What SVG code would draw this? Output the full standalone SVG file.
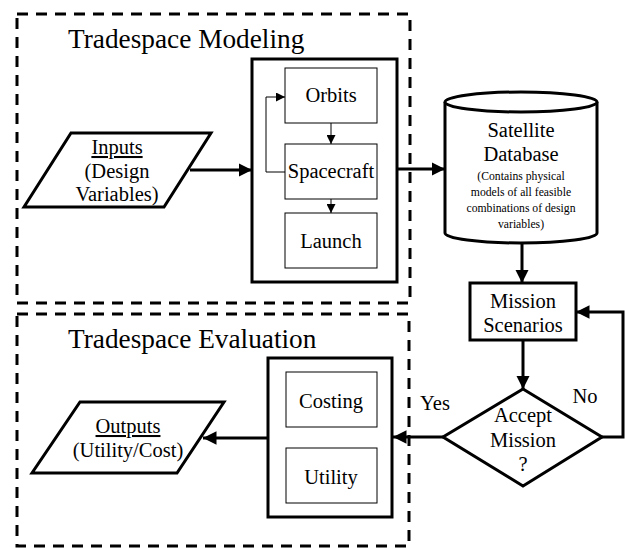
<svg xmlns="http://www.w3.org/2000/svg" width="625" height="548" viewBox="0 0 625 548">
<style>
.dash{fill:none;stroke:#000;stroke-width:3;stroke-dasharray:11 8}
.thick{fill:#fff;stroke:#000;stroke-width:3}
.thin{fill:#fff;stroke:#000;stroke-width:1}
.t{font-family:"Liberation Serif","Times New Roman",serif;fill:#000;text-anchor:middle}
.lbl{font-size:20.5px}
.title{font-size:27.3px;text-anchor:start}
.small{font-size:11.7px}
.conn{fill:none;stroke:#000;stroke-width:3}
.connthin{fill:none;stroke:#000;stroke-width:1}
</style>
<defs>
<marker id="ah" viewBox="0 0 10 10" refX="10" refY="5" markerWidth="4.5" markerHeight="4.5" orient="auto" markerUnits="strokeWidth"><path d="M0,0 L10,5 L0,10 z" fill="#000"/></marker>
<marker id="ahs" viewBox="0 0 10 10" refX="10" refY="5" markerWidth="9" markerHeight="9" orient="auto" markerUnits="strokeWidth"><path d="M0,0 L10,5 L0,10 z" fill="#000"/></marker>
</defs>
<rect width="625" height="548" fill="#fff"/>

<g id="modeling-region">
<rect class="dash" x="17" y="14" width="393" height="289"/>
<text class="t title" x="68" y="48">Tradespace Modeling</text>
</g>
<g id="evaluation-region">
<rect class="dash" x="17" y="314" width="392" height="232"/>
<text class="t title" x="68" y="348">Tradespace Evaluation</text>
</g>

<g id="inputs">
<polygon class="thick" points="71,133 211,133 164,207 24,207"/>
<text class="t lbl" x="117" y="154" text-decoration="underline">Inputs</text>
<text class="t lbl" x="117" y="178">(Design</text>
<text class="t lbl" x="117" y="201">Variables)</text>
</g>

<g id="modeling-box">
<rect class="thick" x="252" y="59" width="145" height="223"/>
</g>
<g id="orbits">
<rect class="thin" x="285" y="68" width="92" height="55"/>
<text class="t lbl" x="331" y="102">Orbits</text>
</g>
<g id="spacecraft">
<rect class="thin" x="285" y="144" width="92" height="55"/>
<text class="t lbl" x="331" y="178">Spacecraft</text>
</g>
<g id="launch">
<rect class="thin" x="285" y="213" width="92" height="55"/>
<text class="t lbl" x="331" y="248">Launch</text>
</g>

<g id="database">
<path class="thick" d="M445,102 L445,233 A76,10 0 0 0 597,233 L597,102"/>
<ellipse class="thick" cx="521" cy="102" rx="76" ry="10"/>
<text class="t lbl" x="521" y="137">Satellite</text>
<text class="t lbl" x="521" y="161">Database</text>
<text class="t small" x="521" y="180">(Contains physical</text>
<text class="t small" x="521" y="196">models of all feasible</text>
<text class="t small" x="521" y="212">combinations of design</text>
<text class="t small" x="521" y="228">variables)</text>
</g>

<g id="mission-scenarios">
<rect class="thick" x="470" y="283" width="106" height="57"/>
<text class="t lbl" x="523" y="308">Mission</text>
<text class="t lbl" x="523" y="332">Scenarios</text>
</g>

<g id="accept-mission">
<polygon class="thick" points="523,389 602,437 523,486 443,437"/>
<text class="t lbl" x="523" y="422">Accept</text>
<text class="t lbl" x="523" y="447">Mission</text>
<text class="t lbl" x="523" y="471">?</text>
</g>

<g id="evaluation-box">
<rect class="thick" x="268" y="358" width="124" height="159"/>
</g>
<g id="costing">
<rect class="thin" x="286" y="372" width="91" height="55"/>
<text class="t lbl" x="331" y="408">Costing</text>
</g>
<g id="utility">
<rect class="thin" x="286" y="448" width="91" height="55"/>
<text class="t lbl" x="331" y="484">Utility</text>
</g>

<g id="outputs">
<polygon class="thick" points="80,402 224,402 177,473 32,473"/>
<text class="t lbl" x="128" y="433" text-decoration="underline">Outputs</text>
<text class="t lbl" x="128" y="457">(Utility/Cost)</text>
</g>

<g id="connectors">
<line class="conn" x1="190" y1="170" x2="252" y2="170" marker-end="url(#ah)"/>
<line class="connthin" x1="331" y1="123" x2="331" y2="144" marker-end="url(#ahs)"/>
<line class="connthin" x1="331" y1="199" x2="331" y2="213" marker-end="url(#ahs)"/>
<polyline class="connthin" stroke="#555" points="285,172 266,172 266,97 285,97" marker-end="url(#ahs)"/>
<line class="conn" x1="397" y1="169" x2="445" y2="169" marker-end="url(#ah)"/>
<line class="conn" x1="522" y1="243" x2="522" y2="283" marker-end="url(#ah)"/>
<line class="conn" x1="523" y1="340" x2="523" y2="389" marker-end="url(#ah)"/>
<polyline class="conn" points="602,437 623,437 623,312 576,312" marker-end="url(#ah)"/>
<line class="conn" x1="443" y1="437" x2="393" y2="437" marker-end="url(#ah)"/>
<line class="conn" x1="268" y1="438" x2="203" y2="438" marker-end="url(#ah)"/>
<text class="t lbl" x="435" y="410">Yes</text>
<text class="t lbl" x="585" y="403">No</text>
</g>
</svg>
